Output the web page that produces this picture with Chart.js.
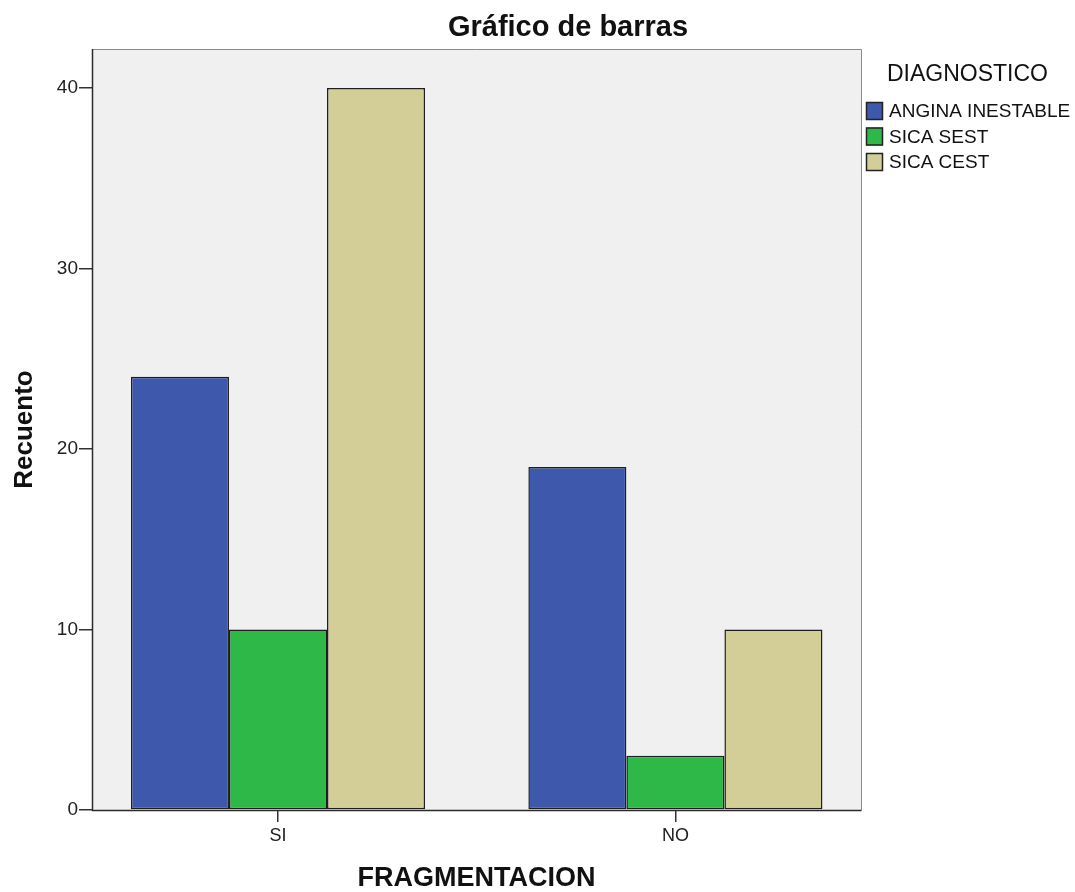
<!DOCTYPE html>
<html>
<head>
<meta charset="utf-8">
<title>Gráfico de barras</title>
<script src="https://cdn.jsdelivr.net/npm/chart.js@4.4.1/dist/chart.umd.min.js"></script>
<style>
    html, body { margin: 0; padding: 0; background: #fff; }
    #wrap { position: relative; width: 1075px; height: 892px; }
</style>
</head>
<body>
<div id="wrap"><canvas id="chart" width="1075" height="892"></canvas></div>
<script>
    // datos
    const categories = ["SI", "NO"];
    const seriesNames = ["ANGINA INESTABLE", "SICA SEST", "SICA CEST"];
    const anginaInestable = [24, 19];
    const sicaSest = [10, 3];
    const sicaCest = [40, 10];
    const yTicks = [0, 10, 20, 30, 40];
    const colors = ["#3e58ac", "#2eb848", "#d3ce97"];

    const FONT = "'Liberation Sans', Arial, sans-serif";

    // fondo gris y marco del área de trazado (estilo SPSS)
    const plotFrame = {
        id: "plotFrame",
        beforeDatasetsDraw(chart) {
            const { ctx, chartArea: a } = chart;
            ctx.save();
            ctx.fillStyle = "#f0f0f0";
            ctx.fillRect(a.left, a.top, a.right - a.left, a.bottom - a.top);
            ctx.restore();
        },
        afterDraw(chart) {
            const { ctx, chartArea: a } = chart;
            ctx.save();
            ctx.lineWidth = 1;
            ctx.strokeStyle = "#8a8a8a";
            ctx.beginPath();
            ctx.moveTo(a.left, a.top + 0.5);
            ctx.lineTo(a.right + 0.5, a.top + 0.5);
            ctx.lineTo(a.right + 0.5, a.bottom);
            ctx.stroke();
            ctx.strokeStyle = "#2b2b2b";
            ctx.lineWidth = 1.5;
            ctx.beginPath();
            ctx.moveTo(a.left + 0.5, a.top);
            ctx.lineTo(a.left + 0.5, a.bottom + 0.5);
            ctx.lineTo(a.right + 0.5, a.bottom + 0.5);
            ctx.stroke();
            ctx.restore();
        }
    };

    // título y leyenda dibujados a mano para colocarlos como en el original
    const titleAndLegend = {
        id: "titleAndLegend",
        afterDraw(chart) {
            const { ctx } = chart;
            ctx.save();
            ctx.fillStyle = "#111";
            ctx.textBaseline = "middle";
            ctx.textAlign = "center";
            ctx.font = `bold 29px ${FONT}`;
            ctx.fillText("Gráfico de barras", 568, 28);

            ctx.textAlign = "left";
            ctx.font = `23px ${FONT}`;
            ctx.fillText("DIAGNOSTICO", 887, 75);
            ctx.font = `19px ${FONT}`;
            chart.data.datasets.forEach((ds, i) => {
                const y = 111 + i * 25.5;
                ctx.fillStyle = ds.backgroundColor;
                ctx.fillRect(866, y - 9, 17, 18);
                ctx.strokeStyle = "#222";
                ctx.lineWidth = 1.5;
                ctx.strokeRect(866.5, y - 8.5, 16, 17);
                ctx.fillStyle = "#111";
                ctx.fillText(ds.label, 889, y + 1);
            });
            ctx.restore();
        }
    };

    const toPoints = values => values.map((v, i) => ({ x: i, y: v }));

    new Chart(document.getElementById("chart"), {
        type: "bar",
        data: {
            datasets: [anginaInestable, sicaSest, sicaCest].map((vals, i) => ({
                label: seriesNames[i],
                data: toPoints(vals),
                backgroundColor: colors[i],
                borderColor: "#1e1e1e",
                borderWidth: 1.5,
                borderSkipped: false,
                categoryPercentage: 0.74,
                barPercentage: 1,
            })),
        },
        options: {
            responsive: false,
            animation: false,
            layout: { padding: { top: 49, right: 214, left: 0, bottom: 0 } },
            plugins: {
                legend: { display: false },
                title: { display: false },
                tooltip: { enabled: false },
            },
            scales: {
                x: {
                    type: "linear",
                    offset: false,
                    min: -0.468,
                    max: 1.467,
                    afterFit: s => { s.height = 82; },
                    afterBuildTicks: s => { s.ticks = categories.map((c, i) => ({ value: i })); },
                    grid: { offset: false, drawOnChartArea: false, drawTicks: true, tickLength: 12, tickColor: "#333", lineWidth: 1.5 },
                    border: { display: false },
                    ticks: {
                        callback: v => categories[v] ?? "",
                        color: "#222",
                        font: { family: FONT, size: 18 },
                        padding: 3,
                        maxRotation: 0,
                    },
                    title: {
                        display: true,
                        text: "FRAGMENTACION",
                        color: "#111",
                        font: { family: FONT, size: 27, weight: "bold", lineHeight: 1 },
                        padding: { top: 0, bottom: 0 },
                    },
                },
                y: {
                    min: 0,
                    max: 42.16,
                    afterFit: s => { s.width = 92; },
                    afterBuildTicks: s => { s.ticks = yTicks.map(v => ({ value: v })); },
                    grid: { drawOnChartArea: false, drawTicks: true, tickLength: 13, tickColor: "#333", lineWidth: 1.5 },
                    border: { display: false },
                    ticks: {
                        color: "#222",
                        font: { family: FONT, size: 19 },
                        padding: 1,
                    },
                    title: {
                        display: true,
                        text: "Recuento",
                        color: "#111",
                        font: { family: FONT, size: 26, weight: "bold", lineHeight: 1 },
                        padding: { top: 12, bottom: 0 },
                    },
                },
            },
        },
        plugins: [plotFrame, titleAndLegend],
    });
</script>
</body>
</html>
